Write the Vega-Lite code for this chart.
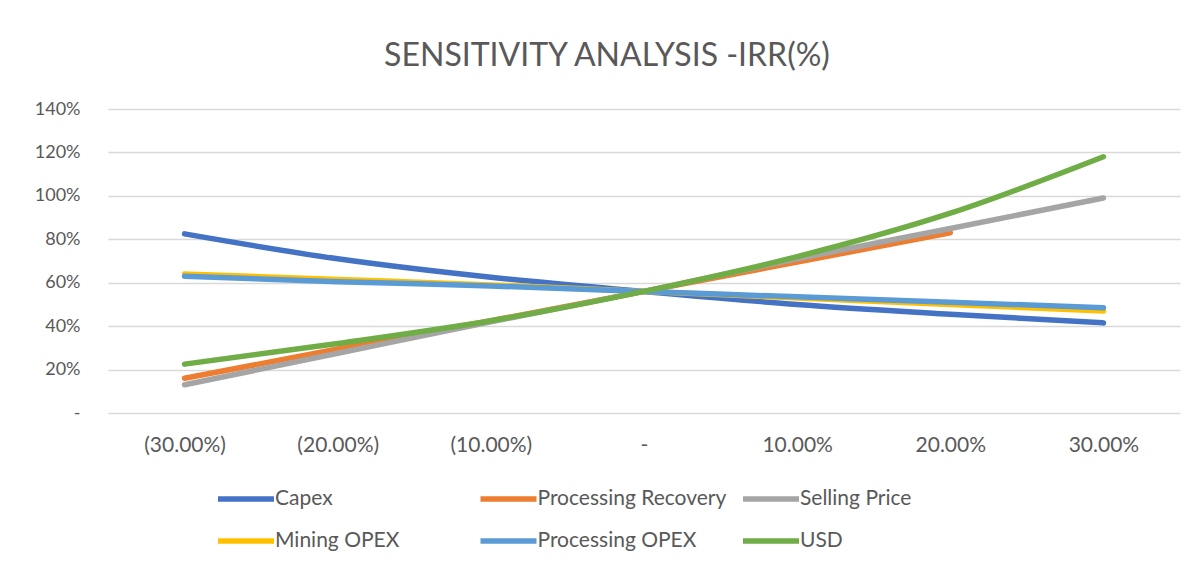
{
  "$schema": "https://vega.github.io/schema/vega-lite/v6.json",
  "autosize": {"type": "none"},
  "width": 1072,
  "height": 304,
  "padding": {"left": 108, "top": 109, "right": 22, "bottom": 161},
  "background": "white",
  "title": {
    "text": "SENSITIVITY ANALYSIS -IRR(%)",
    "font": "Lato",
    "fontSize": 32,
    "fontWeight": "normal",
    "color": "#595959",
    "anchor": "middle",
    "dx": -37,
    "offset": 27
  },
  "data": {
    "values": [
      {"change": "(30.00%)", "series": "Capex", "irr": 0.825},
      {"change": "(20.00%)", "series": "Capex", "irr": 0.71},
      {"change": "(10.00%)", "series": "Capex", "irr": 0.625},
      {"change": "-", "series": "Capex", "irr": 0.56},
      {"change": "10.00%", "series": "Capex", "irr": 0.50},
      {"change": "20.00%", "series": "Capex", "irr": 0.455},
      {"change": "30.00%", "series": "Capex", "irr": 0.415},
      {"change": "(30.00%)", "series": "Processing Recovery", "irr": 0.16},
      {"change": "(20.00%)", "series": "Processing Recovery", "irr": 0.295},
      {"change": "(10.00%)", "series": "Processing Recovery", "irr": 0.425},
      {"change": "-", "series": "Processing Recovery", "irr": 0.56},
      {"change": "10.00%", "series": "Processing Recovery", "irr": 0.695},
      {"change": "20.00%", "series": "Processing Recovery", "irr": 0.83},
      {"change": "(30.00%)", "series": "Selling Price", "irr": 0.13},
      {"change": "(20.00%)", "series": "Selling Price", "irr": 0.275},
      {"change": "(10.00%)", "series": "Selling Price", "irr": 0.42},
      {"change": "-", "series": "Selling Price", "irr": 0.56},
      {"change": "10.00%", "series": "Selling Price", "irr": 0.71},
      {"change": "20.00%", "series": "Selling Price", "irr": 0.85},
      {"change": "30.00%", "series": "Selling Price", "irr": 0.99},
      {"change": "(30.00%)", "series": "Mining OPEX", "irr": 0.64},
      {"change": "(20.00%)", "series": "Mining OPEX", "irr": 0.615},
      {"change": "(10.00%)", "series": "Mining OPEX", "irr": 0.59},
      {"change": "-", "series": "Mining OPEX", "irr": 0.56},
      {"change": "10.00%", "series": "Mining OPEX", "irr": 0.53},
      {"change": "20.00%", "series": "Mining OPEX", "irr": 0.50},
      {"change": "30.00%", "series": "Mining OPEX", "irr": 0.47},
      {"change": "(30.00%)", "series": "Processing OPEX", "irr": 0.63},
      {"change": "(20.00%)", "series": "Processing OPEX", "irr": 0.605},
      {"change": "(10.00%)", "series": "Processing OPEX", "irr": 0.585},
      {"change": "-", "series": "Processing OPEX", "irr": 0.56},
      {"change": "10.00%", "series": "Processing OPEX", "irr": 0.535},
      {"change": "20.00%", "series": "Processing OPEX", "irr": 0.51},
      {"change": "30.00%", "series": "Processing OPEX", "irr": 0.485},
      {"change": "(30.00%)", "series": "USD", "irr": 0.225},
      {"change": "(20.00%)", "series": "USD", "irr": 0.32},
      {"change": "(10.00%)", "series": "USD", "irr": 0.425},
      {"change": "-", "series": "USD", "irr": 0.56},
      {"change": "10.00%", "series": "USD", "irr": 0.72},
      {"change": "20.00%", "series": "USD", "irr": 0.92},
      {"change": "30.00%", "series": "USD", "irr": 1.18}
    ]
  },
  "mark": {"type": "line", "interpolate": "monotone", "strokeWidth": 5.5, "strokeCap": "round", "strokeJoin": "round"},
  "encoding": {
    "x": {
      "field": "change",
      "type": "ordinal",
      "sort": ["(30.00%)", "(20.00%)", "(10.00%)", "-", "10.00%", "20.00%", "30.00%"],
      "scale": {"type": "point", "padding": 0.5},
      "axis": {
        "title": null,
        "domain": false,
        "ticks": false,
        "grid": false,
        "labelAngle": 0,
        "labelPadding": 21,
        "labelFont": "Lato",
        "labelFontSize": 21,
        "labelColor": "#595959"
      }
    },
    "y": {
      "field": "irr",
      "type": "quantitative",
      "scale": {"domain": [0, 1.4], "nice": false},
      "axis": {
        "title": null,
        "values": [0, 0.2, 0.4, 0.6, 0.8, 1.0, 1.2, 1.4],
        "labelExpr": "datum.value == 0 ? '-' : format(datum.value, '.0%')",
        "domain": false,
        "ticks": false,
        "grid": true,
        "gridColor": "#d9d9d9",
        "gridWidth": 1.5,
        "labelPadding": 28,
        "labelFont": "Lato",
        "labelFontSize": 18,
        "labelColor": "#595959"
      }
    },
    "color": {
      "field": "series",
      "type": "nominal",
      "scale": {
        "domain": ["Capex", "Processing Recovery", "Selling Price", "Mining OPEX", "Processing OPEX", "USD"],
        "range": ["#4472C4", "#ED7D31", "#A5A5A5", "#FFC000", "#5B9BD5", "#70AD47"]
      },
      "legend": {
        "title": null,
        "orient": "none",
        "legendX": 107,
        "legendY": 359,
        "direction": "horizontal",
        "columns": 3,
        "gridAlign": "all",
        "columnPadding": 5.5,
        "rowPadding": -4,
        "padding": 0,
        "symbolType": "stroke",
        "symbolSize": 3136,
        "symbolStrokeWidth": 5.5,
        "labelOffset": -2,
        "labelFont": "Lato",
        "labelFontSize": 21,
        "labelColor": "#595959",
        "labelLimit": 400
      }
    }
  },
  "config": {"view": {"stroke": null}}
}
